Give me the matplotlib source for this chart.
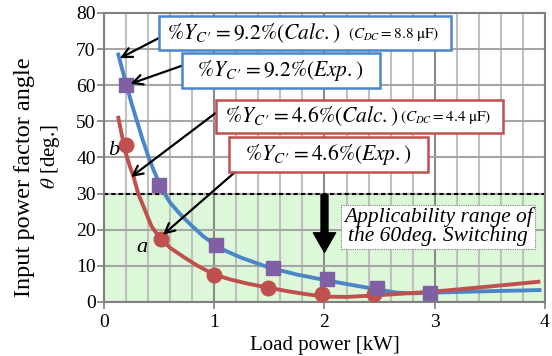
import matplotlib.pyplot as plt
from matplotlib.patches import Rectangle

plt.rcParams["font.family"] = ["Liberation Serif", "DejaVu Serif"]
plt.rcParams["mathtext.fontset"] = "stix"

# calculated curves
calc92_x = [0.13, 0.16, 0.2, 0.25, 0.3, 0.35, 0.4, 0.45, 0.5, 0.55, 0.6, 0.7, 0.8, 0.9,
            1.0, 1.1, 1.25, 1.5, 1.75, 2.0, 2.25, 2.5, 2.65, 2.8, 3.0, 3.5, 3.95]
calc92_y = [68.5, 65, 60.5, 55, 50, 45, 40.5, 36.5, 33, 30, 27.5, 24, 21, 18.2,
            16, 14.2, 12.2, 9.5, 7.6, 6.1, 4.7, 3.4, 2.6, 2.4, 2.6, 3.0, 3.3]
calc46_x = [0.13, 0.16, 0.19, 0.23, 0.27, 0.31, 0.36, 0.43, 0.5, 0.6, 0.72, 0.85, 1.0,
            1.15, 1.3, 1.5, 1.7, 1.85, 2.0, 2.2, 2.45, 2.7, 3.0, 3.5, 3.94]
calc46_y = [51, 46.5, 42, 38, 34.5, 30, 26.3, 21, 18, 15, 12.5, 10, 7.6,
            6.2, 5.1, 3.9, 2.8, 2.1, 1.5, 1.4, 1.8, 2.3, 2.9, 4.3, 5.6]

# measured points
exp92_x = [0.2, 0.5, 1.02, 1.53, 2.02, 2.48, 2.96]
exp92_y = [60.2, 32.3, 15.8, 9.3, 6.3, 3.8, 2.6]
exp46_x = [0.2, 0.52, 1.0, 1.49, 1.98, 2.45]
exp46_y = [43.5, 17.5, 7.5, 4.0, 2.2, 2.1]

BLUE = "#4a86c8"
RED = "#c0504d"
PURPLE = "#7f60a4"

fig = plt.figure(figsize=(5.52, 3.56), dpi=100)
ax = fig.add_axes([0.1884, 0.1517, 0.7989, 0.8118])

ax.set_xlim(0, 4)
ax.set_ylim(0, 80)
ax.set_xticks([0, 1, 2, 3, 4])
ax.set_yticks(range(0, 81, 10))
ax.set_xticks([i * 0.2 for i in range(21)], minor=True)
ax.tick_params(which="minor", length=0)
ax.tick_params(which="major", direction="out", length=5, width=1.2, color="#808080",
               labelsize=14, pad=1)
ax.tick_params(axis="x", pad=4)

# grid
ax.set_axisbelow(True)
ax.grid(True, which="minor", axis="x", color="#c0c0c0", linewidth=1.5)
ax.grid(True, which="major", axis="x", color="#8a8a8a", linewidth=1.5)
ax.grid(True, which="major", axis="y", color="#a6a6a6", linewidth=1.5)
for sp in ax.spines.values():
    sp.set_color("#808080")
    sp.set_linewidth(1.5)

ax.axhspan(0, 30, color="#dcf8d8", zorder=0.1, linewidth=0)
ax.axhline(30, color="black", linestyle=(0, (2, 1.5)), linewidth=1.5, zorder=2)

ax.plot(calc92_x, calc92_y, color=BLUE, linewidth=2.8, zorder=3)
ax.plot(calc46_x, calc46_y, color=RED, linewidth=2.8, zorder=3)
ax.plot(exp46_x, exp46_y, "o", color=RED, markersize=10.5, zorder=4)
ax.plot(exp92_x, exp92_y, "s", color=PURPLE, markersize=10, zorder=5)

ax.set_xlabel("Load power [kW]", fontsize=15, labelpad=3)
fig.text(0.0435, 0.501, "Input power factor angle", rotation=90, fontsize=17.5,
         ha="center", va="center")
fig.text(0.092, 0.560, r"$\theta$" + " [deg.]", rotation=90, fontsize=15,
         ha="center", va="center")

# thick arrow
ax.annotate("", xy=(2.0, 13), xytext=(2.0, 30.5),
            arrowprops=dict(arrowstyle="simple,head_length=1.4,head_width=1.6,tail_width=0.5",
                            color="black"), zorder=6)

ax.text(3.03, 20.8, "Applicability range of\nthe 60deg. Switching", style="italic",
        fontsize=15.5, ha="center", va="center", linespacing=1.0, zorder=6,
        bbox=dict(boxstyle="square,pad=0.12", facecolor="white", edgecolor="#808080",
                  linestyle=(0, (1, 1)), linewidth=0.8))

ax.text(0.09, 42, "b", style="italic", fontsize=16, ha="center", va="center", zorder=6)
ax.text(0.34, 15.0, "a", style="italic", fontsize=16, ha="center", va="center", zorder=6)


def box(x0, x1, y0, y1, color):
    ax.add_patch(Rectangle((x0, y0), x1 - x0, y1 - y0, facecolor="white",
                           edgecolor=color, linewidth=1.8, zorder=7))


def arrow(src, dst):
    ax.annotate("", xy=dst, xytext=src,
                arrowprops=dict(arrowstyle="->,head_length=0.7,head_width=0.35",
                                color="black", linewidth=1.6, shrinkA=0, shrinkB=0),
                zorder=6)


main_fs = 15.5
small_fs = 11

box(0.499, 3.147, 69.8, 79.2, BLUE)
ax.text(0.571, 74.5, r"$\%Y_{C\,\prime} = 9.2\%(Calc.)$", fontsize=main_fs, va="center", zorder=8)
ax.text(2.213, 74.3, r"$(C_{DC} = 8.8\ \mathrm{\mu F})$", fontsize=small_fs, va="center", zorder=8)
arrow((0.5, 73.1), (0.145, 67.5))

box(0.707, 2.503, 59.3, 69.0, BLUE)
ax.text(1.596, 64.2, r"$\%Y_{C\,\prime} = 9.2\%(Exp.)$", fontsize=main_fs, ha="center", va="center", zorder=8)
arrow((0.707, 65.4), (0.24, 60.4))

box(1.016, 3.619, 46.8, 56.0, RED)
ax.text(1.097, 51.4, r"$\%Y_{C\,\prime} = 4.6\%(Calc.)$", fontsize=main_fs, va="center", zorder=8)
ax.text(2.685, 51.2, r"$(C_{DC} = 4.4\ \mathrm{\mu F})$", fontsize=small_fs, va="center", zorder=8)
arrow((1.016, 52.4), (0.245, 34.6))

box(1.134, 2.939, 36.0, 45.7, RED)
ax.text(2.036, 40.9, r"$\%Y_{C\,\prime} = 4.6\%(Exp.)$", fontsize=main_fs, ha="center", va="center", zorder=8)
arrow((1.19, 36.0), (0.535, 18.6))

fig.savefig("out.png", dpi=100)
